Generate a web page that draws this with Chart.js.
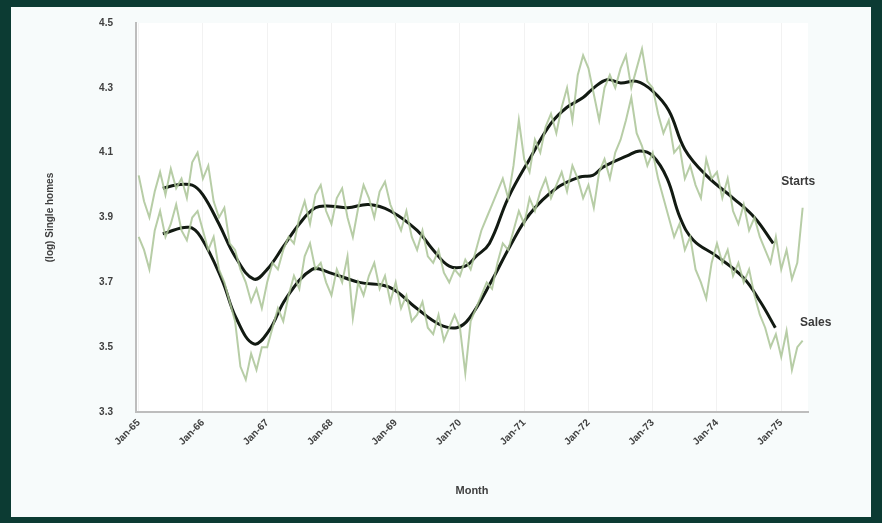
<!DOCTYPE html>
<html>
<head>
<meta charset="utf-8">
<script src="https://cdn.jsdelivr.net/npm/chart.js@4.4.1/dist/chart.umd.min.js"></script>
<style>
  html, body { margin: 0; padding: 0; background: #0c3b33; }
  #panel { position: absolute; left: 11px; top: 7px; width: 860px; height: 510px; background: #f7fbfb; }
  #wrap { position: absolute; left: 0; top: 0; width: 882px; height: 523px; }
</style>
</head>
<body>
<div id="panel"></div>
<div id="wrap"><canvas id="chart"></canvas></div>
<script>
// x is months since Jan-65
const tickLabels = ["Jan-65","Jan-66","Jan-67","Jan-68","Jan-69","Jan-70","Jan-71","Jan-72","Jan-73","Jan-74","Jan-75"];
const tickMonths = [0, 12, 24, 36, 48, 60, 72, 84, 96, 108, 120];

// monthly raw values, Jan-65 .. May-75
const startsRaw = [
  4.03, 3.95, 3.90, 3.98, 4.04, 3.97, 4.05, 3.99, 4.02, 3.96, 4.07, 4.10,
  4.02, 4.06, 3.95, 3.90, 3.93, 3.82, 3.80, 3.74, 3.70, 3.64, 3.68, 3.62,
  3.70, 3.76, 3.74, 3.80, 3.84, 3.82, 3.90, 3.95, 3.88, 3.97, 4.00, 3.92,
  3.88, 3.96, 3.99, 3.90, 3.84, 3.93, 4.00, 3.96, 3.90, 3.98, 4.01, 3.94,
  3.90, 3.86, 3.92, 3.84, 3.80, 3.86, 3.78, 3.76, 3.80, 3.73, 3.70, 3.74,
  3.72, 3.77, 3.74, 3.80, 3.86, 3.90, 3.94, 3.98, 4.02, 3.96, 4.06, 4.20,
  4.08, 4.04, 4.14, 4.10, 4.18, 4.22, 4.16, 4.24, 4.30, 4.20, 4.34, 4.40,
  4.36, 4.28, 4.20, 4.30, 4.34, 4.30, 4.36, 4.40, 4.30, 4.36, 4.42, 4.32,
  4.30, 4.22, 4.16, 4.20, 4.10, 4.12, 4.02, 4.06, 4.00, 3.96, 4.08, 4.02,
  4.04, 3.96, 4.02, 3.92, 3.88, 3.94, 3.86, 3.90, 3.84, 3.80, 3.76, 3.84,
  3.74, 3.80, 3.71, 3.76, 3.93
];
const salesRaw = [
  3.84, 3.80, 3.74, 3.86, 3.92, 3.84, 3.88, 3.94, 3.86, 3.83, 3.90, 3.92,
  3.86, 3.80, 3.84, 3.74, 3.70, 3.64, 3.58, 3.44, 3.40, 3.48, 3.43, 3.50,
  3.50, 3.56, 3.62, 3.58, 3.66, 3.72, 3.68, 3.78, 3.82, 3.74, 3.76, 3.70,
  3.66, 3.74, 3.70, 3.78, 3.59, 3.70, 3.66, 3.72, 3.76, 3.68, 3.72, 3.64,
  3.70, 3.62, 3.66, 3.58, 3.60, 3.64, 3.56, 3.54, 3.60, 3.52, 3.56, 3.60,
  3.56, 3.42, 3.58, 3.62, 3.66, 3.70, 3.68, 3.76, 3.82, 3.80, 3.86, 3.92,
  3.88, 3.96, 3.92, 3.98, 4.02, 3.96, 4.00, 4.04, 3.98, 4.06, 4.02, 3.96,
  4.00, 3.93, 4.04, 4.08, 4.02, 4.10, 4.14, 4.20, 4.27, 4.16, 4.12, 4.06,
  4.10, 4.02, 3.96, 3.90, 3.84, 3.88, 3.80, 3.84, 3.74, 3.70, 3.65, 3.76,
  3.82, 3.76, 3.80, 3.72, 3.76, 3.70, 3.74, 3.66, 3.60, 3.56, 3.50, 3.54,
  3.47, 3.55, 3.43, 3.50, 3.52
];

// smoothed trend lines (month, value)
const startsTrendX = [4.5, 7, 10, 12, 15, 18, 21.5, 24, 27, 30, 33, 36, 39, 43, 47, 52, 55, 58, 61, 63, 65.5, 69, 73, 77, 80, 83, 85, 87.5, 90, 93, 96, 99, 102, 106, 111, 115, 118.5];
const startsTrendY = [3.99, 4.0, 4.0, 3.97, 3.88, 3.78, 3.71, 3.74, 3.81, 3.88, 3.93, 3.935, 3.93, 3.94, 3.92, 3.86, 3.80, 3.75, 3.75, 3.78, 3.82, 3.96, 4.08, 4.19, 4.24, 4.27, 4.30, 4.325, 4.315, 4.32, 4.29, 4.23, 4.11, 4.03, 3.96, 3.90, 3.82];
const salesTrendX = [4.5, 9.4, 11.6, 15.5, 18.2, 21.5, 24.3, 27.5, 32.4, 35.6, 41.2, 46.8, 51.9, 56.2, 59.4, 61.8, 66.1, 69.3, 73, 78, 82.4, 84.8, 86.7, 91.2, 93.6, 96, 98.7, 101.1, 103.6, 108, 112.9, 116.1, 118.9];
const salesTrendY = [3.85, 3.87, 3.84, 3.71, 3.59, 3.51, 3.55, 3.65, 3.74, 3.73, 3.70, 3.685, 3.62, 3.57, 3.56, 3.59, 3.71, 3.81, 3.91, 3.99, 4.025, 4.03, 4.055, 4.09, 4.105, 4.09, 4.02, 3.90, 3.83, 3.78, 3.715, 3.64, 3.56];

const seriesNames = ["Starts", "Sales"];
const nameAt = [[120, 4.01], [123.5, 3.575]];

const rawColor = "rgba(170,196,150,0.85)";
const trendColor = "#121a12";
const font = "'Liberation Sans', Arial, sans-serif";

function pts(xs, ys) {
  return ys.map((v, i) => ({ x: xs ? xs[i] : i, y: v }));
}

const endLabels = {
  id: "endLabels",
  afterDatasetsDraw(chart) {
    const ctx = chart.ctx;
    const xs = chart.scales.x, ys = chart.scales.y;
    ctx.save();
    ctx.font = "bold 12px " + font;
    ctx.fillStyle = "#3a3a3a";
    ctx.textBaseline = "middle";
    seriesNames.forEach((name, i) => {
      ctx.fillText(name, xs.getPixelForValue(nameAt[i][0]), ys.getPixelForValue(nameAt[i][1]));
    });
    ctx.restore();
  }
};

const plotBg = {
  id: "plotBg",
  beforeDraw(chart) {
    const a = chart.chartArea;
    chart.ctx.save();
    chart.ctx.fillStyle = "#ffffff";
    chart.ctx.fillRect(a.left, a.top, a.right - a.left, a.bottom - a.top);
    chart.ctx.restore();
  }
};

new Chart(document.getElementById("chart"), {
  type: "line",
  data: {
    datasets: [
      { data: pts(null, startsRaw), borderColor: rawColor, borderWidth: 2, tension: 0 },
      { data: pts(null, salesRaw), borderColor: rawColor, borderWidth: 2, tension: 0 },
      { data: pts(startsTrendX, startsTrendY), borderColor: trendColor, borderWidth: 3, tension: 0.4 },
      { data: pts(salesTrendX, salesTrendY), borderColor: trendColor, borderWidth: 3, tension: 0.4 }
    ]
  },
  options: {
    responsive: true,
    maintainAspectRatio: false,
    animation: false,
    elements: { point: { radius: 0 } },
    layout: { padding: { top: 23, right: 74, left: 44, bottom: 25 } },
    plugins: { legend: { display: false }, tooltip: { enabled: false } },
    scales: {
      x: {
        type: "linear",
        min: -0.5,
        max: 125,
        afterBuildTicks(scale) { scale.ticks = tickMonths.map(v => ({ value: v })); },
        afterFit(scale) { scale.height = 86; },
        grid: { color: "rgba(0,0,0,0.05)", drawTicks: false },
        border: { color: "#bdbdbd", width: 2 },
        ticks: {
          autoSkip: false,
          minRotation: 45,
          maxRotation: 45,
          padding: 5,
          color: "#404040",
          font: { family: font, size: 10, weight: "bold" },
          callback: (v) => tickLabels[tickMonths.indexOf(v)]
        },
        title: { display: true, text: "Month", color: "#404040", font: { family: font, size: 11, weight: "bold" }, padding: { top: 0, bottom: 0 } }
      },
      y: {
        min: 3.3,
        max: 4.5,
        afterFit(scale) { scale.width = 92; },
        grid: { display: false },
        border: { color: "#bdbdbd", width: 2 },
        ticks: {
          stepSize: 0.2,
          padding: 15,
          color: "#404040",
          font: { family: font, size: 10, weight: "bold" },
          callback: (v) => v.toFixed(1)
        },
        title: { display: true, text: "(log) Single homes", color: "#404040", font: { family: font, size: 10, weight: "bold" }, padding: { top: 0, bottom: 0 } }
      }
    }
  },
  plugins: [plotBg, endLabels]
});
</script>
</body>
</html>
